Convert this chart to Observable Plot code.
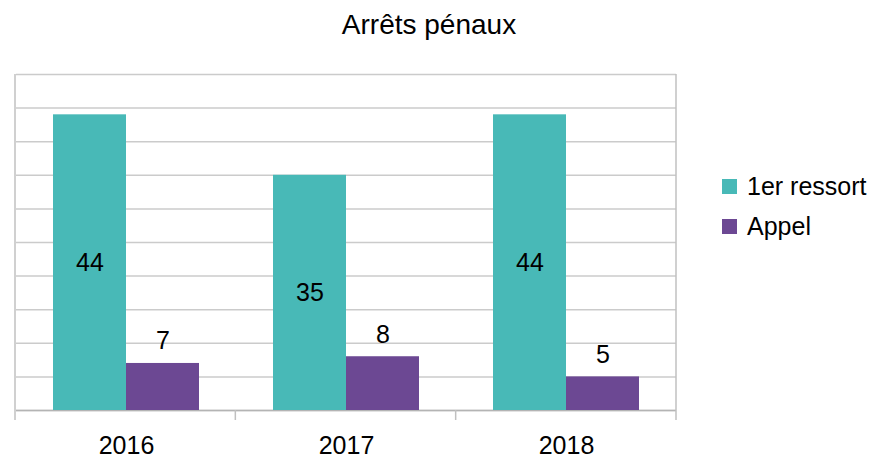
<!DOCTYPE html>
<html><head><meta charset="utf-8">
<script src="https://cdn.jsdelivr.net/npm/d3@7"></script>
<script src="https://cdn.jsdelivr.net/npm/@observablehq/plot@0.6"></script>
<style>
html,body{margin:0;padding:0;background:#fff;}
#chart{position:relative;width:879px;height:458px;font-family:"Liberation Sans",Arial,sans-serif;color:#000;}
#plot{position:absolute;left:0;top:0;}
#title{position:absolute;left:0;width:858px;top:11px;text-align:center;font-size:28px;line-height:28px;}
#legend{position:absolute;left:722px;top:174px;}
.item{display:flex;align-items:center;height:25px;margin-bottom:15px;font-size:25px;line-height:25px;white-space:nowrap;}
.sw{width:15px;height:15px;margin-right:10px;flex:none;}
</style></head><body>
<div id="chart"><div id="plot"></div><div id="title">Arrêts pénaux</div><div id="legend"></div></div>
<script>
const years = ["2016", "2017", "2018"];
const series = ["1er ressort", "Appel"];
const premierRessort = [44, 35, 44];
const appel = [7, 8, 5];
const colors = ["#48b9b7", "#6c4893"];
const yTicks = [0, 5, 10, 15, 20, 25, 30, 35, 40, 45, 50];

const data = years.flatMap((y, i) => [
  {year: y, series: series[0], value: premierRessort[i]},
  {year: y, series: series[1], value: appel[i]}
]);

const W = 879, H = 458, mL = 15, mR = 203, mT = 74, mB = 48;

const plot = Plot.plot({
  width: W, height: H,
  marginLeft: mL, marginRight: mR, marginTop: mT, marginBottom: mB,
  style: {fontFamily: "Liberation Sans, Arial, sans-serif", fontSize: "25px", color: "#000", background: "#fff"},
  facet: {data, x: "year", marginLeft: 0, marginRight: 0, marginTop: 0, marginBottom: 0},
  fx: {domain: years, padding: 0, axis: "bottom", label: null, tickSize: 0, tickPadding: 26},
  x: {domain: series, paddingInner: 0, paddingOuter: 0.5, axis: null},
  y: {domain: [0, 50], axis: null},
  color: {domain: series, range: colors},
  marks: [
    Plot.ruleY(yTicks, {stroke: "#cbcbcb", strokeWidth: 1.5}),
    Plot.ruleY([0], {stroke: "#b4b4b4", strokeWidth: 1.5}),
    Plot.barY(data, {x: "series", y: "value", fill: "series", inset: 0}),
    Plot.text(data, {filter: d => d.series === series[0], x: "series", y: d => d.value / 2, text: d => String(d.value), fontSize: 25, fill: "#000", lineAnchor: "middle"}),
    Plot.text(data, {filter: d => d.series === series[1], x: "series", y: "value", text: d => String(d.value), fontSize: 25, fill: "#000", lineAnchor: "bottom", dy: -14})
  ]
});

// category boundary ticks and side borders
const svg = d3.select(plot);
let r0 = mL, r1 = W - mR;
try { const fx = plot.scale("fx"); if (fx && fx.range) { r0 = fx.range[0]; r1 = fx.range[1]; } } catch (e) {}
const n = years.length;
const bounds = d3.range(n + 1).map(i => r0 + (r1 - r0) * i / n);
const bottom = H - mB;
svg.append("g").selectAll("line").data(bounds).join("line")
  .attr("x1", d => d).attr("x2", d => d)
  .attr("y1", (d, i) => (i === 0 || i === n) ? mT : bottom)
  .attr("y2", bottom + 10)
  .attr("stroke", "#c0c0c0").attr("stroke-width", 1.5);

document.getElementById("plot").appendChild(plot);

const legend = d3.select("#legend");
series.forEach((s, i) => {
  const item = legend.append("div").attr("class", "item");
  item.append("div").attr("class", "sw").style("background", colors[i]);
  item.append("span").text(s);
});
</script>
</body></html>
